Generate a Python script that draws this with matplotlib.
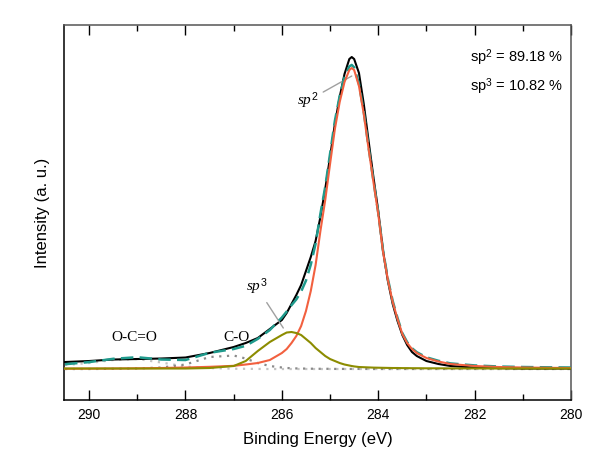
import matplotlib
matplotlib.use("Agg")
import matplotlib.pyplot as plt
import numpy as np

plt.rcParams["font.family"] = ["Liberation Sans", "DejaVu Sans"]
plt.rcParams["mathtext.fontset"] = "custom"
plt.rcParams["mathtext.rm"] = "Liberation Sans"
plt.rcParams["mathtext.it"] = "Liberation Serif:italic"

# binding energy grid (eV)
energy = [290.5, 290.0, 289.5, 289.0, 288.5, 288.0, 287.5, 287.0, 286.75, 286.5,
          286.25, 286.0, 285.9, 285.8, 285.7, 285.6, 285.5, 285.4, 285.3, 285.2,
          285.1, 285.0, 284.9, 284.8, 284.7, 284.6, 284.55, 284.5, 284.4, 284.3,
          284.2, 284.1, 284.0, 283.9, 283.8, 283.7, 283.6, 283.5, 283.4, 283.3,
          283.2, 283.0, 282.75, 282.5, 282.0, 281.5, 281.0, 280.5, 280.0]

# measured spectrum
measured = [7, 8, 9.5, 10, 10.5, 11.5, 16, 22, 26, 31,
            40, 49, 56, 65, 74, 84, 98, 112, 128, 152,
            180, 212, 245, 272, 295, 310, 312, 310, 296, 265,
            228, 192, 158, 118, 88, 65, 48, 34, 24, 17,
            13, 8, 5, 3, 1.5, 1, 0.5, 0.5, 0.5]

# fitted components
sp2 = [0.3, 0.4, 0.5, 0.7, 1.0, 1.5, 2.2, 3.2, 4.5, 6,
       9, 16, 20, 26, 33, 43, 58, 78, 104, 138,
       169, 205, 240, 267, 287, 299, 301, 299, 283, 255,
       220, 187, 155, 117, 89, 67, 50, 35, 26, 20,
       16, 11, 7.5, 5, 3, 2, 1.5, 1.2, 1]
sp3 = [0.5, 0.5, 0.5, 0.5, 0.5, 0.5, 1, 3, 8, 18,
       27, 34, 36.5, 37, 36, 34, 30, 26, 21, 17,
       13, 10, 8, 6, 4.5, 3.5, 3, 2.6, 2, 1.8,
       1.6, 1.4, 1.3, 1.2, 1.1, 1, 1, 0.9, 0.9, 0.8,
       0.8, 0.7, 0.7, 0.6, 0.6, 0.5, 0.5, 0.5, 0.5]
c_o = [0, 0, 0.2, 0.6, 1.5, 4.5, 12, 13.5, 10.5, 6,
       3, 1.5, 1, 0.8, 0.6, 0.5, 0.4, 0.3, 0.3, 0.2,
       0.2, 0.2, 0.1, 0.1, 0.1, 0.1, 0.1, 0.1, 0.1, 0.1,
       0, 0, 0, 0, 0, 0, 0, 0, 0, 0,
       0, 0, 0, 0, 0, 0, 0, 0, 0]
o_c_o = [4, 6, 9, 10, 6.5, 2.5, 1, 0.3, 0.2, 0.1,
         0, 0, 0, 0, 0, 0, 0, 0, 0, 0,
         0, 0, 0, 0, 0, 0, 0, 0, 0, 0,
         0, 0, 0, 0, 0, 0, 0, 0, 0, 0,
         0, 0, 0, 0, 0, 0, 0, 0, 0]

sp2_pct = 89.18
sp3_pct = 10.82

E = np.array(energy)
envelope = np.array(sp2) + np.array(sp3) + np.array(c_o) + np.array(o_c_o)

fig = plt.figure(figsize=(6, 4.66), dpi=100)
ax = fig.add_axes([0.1067, 0.1416, 0.845, 0.8047])

ax.plot(E, o_c_o, color="#c4c4c4", lw=1.6, ls=(0, (1, 2.5)), zorder=2)
ax.plot(E, c_o, color="#8a8a8a", lw=1.6, ls=(0, (1, 2.5)), zorder=2)
ax.plot(E, measured, color="black", lw=1.5, zorder=3)
ax.plot(E, envelope, color="#1f9a8c", lw=1.8, ls=(0, (5, 2.5)), zorder=4)
ax.plot(E, sp2, color="#f2603f", lw=1.5, zorder=5)
ax.plot(E, sp3, color="#8c8c00", lw=1.5, zorder=5)

ax.set_xlim(290.52, 280)
ax.set_ylim(-31, 344)
ax.set_xticks([290, 288, 286, 284, 282, 280])
ax.set_xticks([289, 287, 285, 283, 281], minor=True)
ax.set_yticks([])
ax.tick_params(axis="x", which="major", direction="in", length=7, width=1,
               top=True, labelsize=10, pad=6)
ax.tick_params(axis="x", which="minor", direction="in", length=4, width=1, top=True)

for side in ["left", "bottom"]:
    ax.spines[side].set_color("black")
    ax.spines[side].set_linewidth(1.1)
for side in ["top", "right"]:
    ax.spines[side].set_color("#555555")
    ax.spines[side].set_linewidth(1.1)

ax.set_xlabel("Binding Energy (eV)", fontsize=12, labelpad=7)
ax.set_ylabel("Intensity (a. u.)", fontsize=12, labelpad=10)

ax.text(0.985, 0.94, f"sp$^{{2}}$ = {sp2_pct:.2f} %\nsp$^{{3}}$ = {sp3_pct:.2f} %",
        transform=ax.transAxes, ha="right", va="top", fontsize=10.5, linespacing=1.5)

serif = ["Liberation Serif", "DejaVu Serif"]
ax.annotate("$sp^2$", xy=(284.55, 293), xytext=(285.25, 268), fontsize=11,
            ha="right", va="center", family=serif,
            arrowprops=dict(arrowstyle="-", color="#a0a0a0", lw=1,
                            shrinkA=2, shrinkB=0))
ax.annotate("$sp^3$", xy=(285.97, 41), xytext=(286.3, 82), fontsize=11,
            ha="right", va="center", family=serif,
            arrowprops=dict(arrowstyle="-", color="#a0a0a0", lw=1,
                            shrinkA=2, shrinkB=0))
ax.text(289.07, 32, "O-C=O", fontsize=11, ha="center", va="center", family=serif)
ax.text(286.95, 32, "C-O", fontsize=11, ha="center", va="center", family=serif)

fig.savefig("out.png", dpi=100)
